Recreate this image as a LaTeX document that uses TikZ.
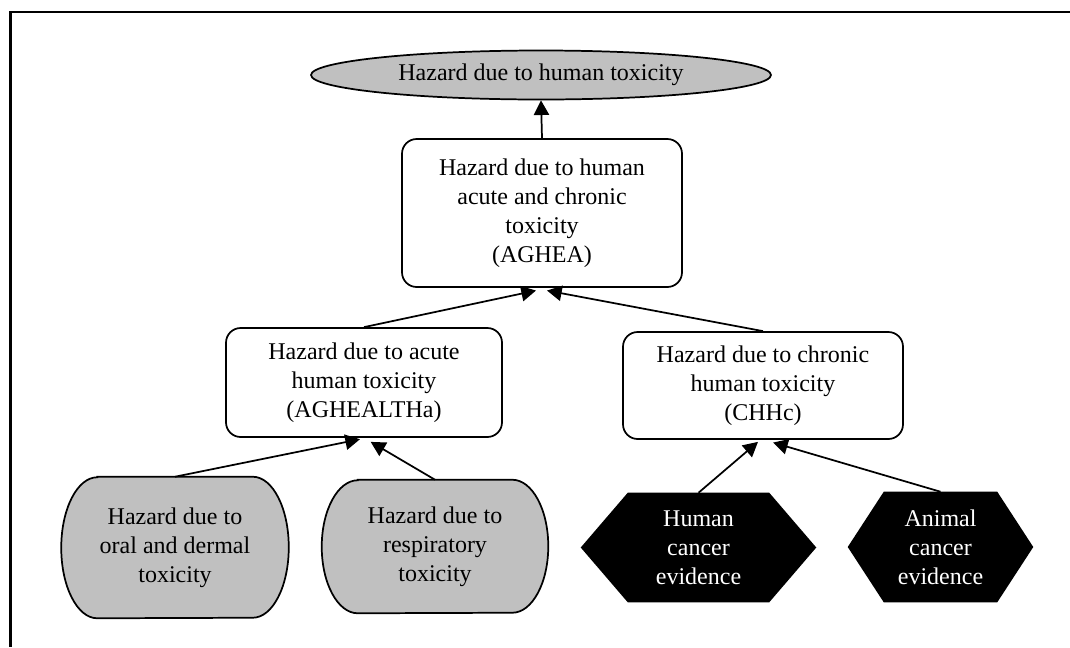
\documentclass[tikz,border=0pt]{standalone}
\usepackage{fontspec}
\setmainfont{Liberation Serif}
\usetikzlibrary{shapes.geometric,arrows.meta,backgrounds}
\definecolor{shade}{HTML}{C0C0C0}
\tikzset{
  lbl/.style={align=center, font=\fontsize{18}{21.75}\selectfont, inner sep=0pt},
  goal/.style={lbl, ellipse, draw, fill=shade, line width=1.3pt,
    minimum width=345pt, minimum height=36.75pt},
  factor/.style={lbl, rectangle, draw, rounded corners=11pt, line width=1.3pt, fill=white},
  leaf/.style={lbl, rectangle},
  evid/.style={lbl, rectangle, text=white},
  outline/.style={draw, line width=1.3pt, fill=shade},
  link/.style={line width=1.3pt, -{Triangle[length=11pt,width=11.5pt]}},
}
% capsule outline with elliptical sides around a node: #1 node, #2 side radius, #3 half height
\newcommand\capsuleshape[3]{%
  \draw[outline] ([xshift=#2]#1.north west) -- ([xshift=-#2]#1.north east)
    arc[start angle=90, end angle=-90, x radius=#2, y radius=#3]
    -- ([xshift=#2]#1.south west)
    arc[start angle=270, end angle=90, x radius=#2, y radius=#3] -- cycle;}
% flat hexagon around a node: #1 node, #2 tip depth
\newcommand\hexshape[2]{%
  \fill (#1.west) -- ([xshift=#2]#1.north west) -- ([xshift=-#2]#1.north east)
    -- (#1.east) -- ([xshift=-#2]#1.south east) -- ([xshift=#2]#1.south west) -- cycle;}

\begin{document}
\begin{tikzpicture}[x=0.75pt,y=0.75pt]
\useasboundingbox (0,0) rectangle (1070,-647);
\draw[line width=1.6pt] (1070,-12) -- (10.5,-12) -- (10.5,-647);

\node[goal] (top) at (541,-75) {Hazard due to human toxicity};
\node[factor, minimum width=210pt, minimum height=111pt] (aghea) at (542,-213)
  {Hazard due to human\\acute and chronic\\toxicity\\(AGHEA)};
\node[factor, minimum width=207pt, minimum height=81.75pt] (acute) at (364,-382.5)
  {Hazard due to acute\\human toxicity\\(AGHEALTHa)};
\node[factor, minimum width=210pt, minimum height=80.25pt] (chronic) at (763,-385.5)
  {Hazard due to chronic\\human toxicity\\(CHHc)};

\node[leaf, minimum width=170.25pt, minimum height=105.75pt] (oral) at (175,-547.5)
  {Hazard due to\\oral and dermal\\toxicity};
\node[leaf, minimum width=169.5pt, minimum height=99.75pt] (resp) at (435,-546.5)
  {Hazard due to\\respiratory\\toxicity};
\node[evid, minimum width=176.25pt, minimum height=81.75pt] (human) at (698.5,-547.5)
  {Human\\cancer\\evidence};
\node[evid, minimum width=138.75pt, minimum height=82.5pt] (animal) at (940.5,-547)
  {Animal\\cancer\\evidence};

\begin{scope}[on background layer]
  \capsuleshape{oral}{27pt}{52.875pt}
  \capsuleshape{resp}{27pt}{49.875pt}
  \hexshape{human}{35.25pt}
  \hexshape{animal}{27pt}
\end{scope}

\draw[link] (aghea.north) -- (top.south);
\draw[link] (acute.north) -- ([xshift=-4.5pt,yshift=-2pt]aghea.south);
\draw[link] (chronic.north) -- ([xshift=3.75pt,yshift=-2pt]aghea.south);
\draw[link] (oral.north) -- ([xshift=-3pt,yshift=-1pt]acute.south);
\draw[link] (resp.north) -- ([xshift=5pt,yshift=-3pt]acute.south);
\draw[link] (human.north) -- ([xshift=-3.75pt,yshift=-1.5pt]chronic.south);
\draw[link] (animal.north) -- ([xshift=7.5pt,yshift=-2pt]chronic.south);
\end{tikzpicture}
\end{document}
